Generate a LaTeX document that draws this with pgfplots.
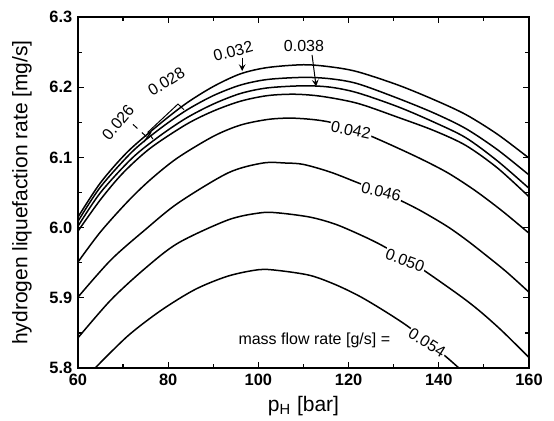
\documentclass[border=0pt]{standalone}
\usepackage{fontspec}
\setmainfont{Liberation Sans}
\usepackage{pgfplots}
\pgfplotsset{compat=1.18}
\begin{document}
\fontsize{8}{9.6}\selectfont
\begin{tikzpicture}
\begin{axis}[
  width=225.5pt, height=175.5pt, scale only axis,
  xmin=60, xmax=160, ymin=5.8, ymax=6.3,
  xtick={60,80,100,120,140,160},
  ytick={5.8,5.9,6.0,6.1,6.2,6.3},
  minor x tick num=1, minor y tick num=1,
  yticklabel style={/pgf/number format/fixed,
    /pgf/number format/precision=1, /pgf/number format/fixed zerofill},
  /pgf/number format/assume math mode=true,
  tick align=inside,
  major tick length=3pt, minor tick length=1.8pt,
  axis line style={line width=0.8pt},
  tick style={line width=0.6pt, black},
  ticklabel style={font=\fontsize{8.2}{9.6}\selectfont\bfseries},
  xlabel style={font=\fontsize{10.5}{12}\selectfont,
    at={(rel axis cs:0.5,0)}, anchor=center, yshift=-19pt},
  ylabel style={font=\fontsize{10.5}{12}\selectfont,
    at={(rel axis cs:0,0.5)}, anchor=center, yshift=28pt},
  xlabel={p\textsubscript{H} [bar]},
  ylabel={hydrogen liquefaction rate [mg/s]},
  cycle list={{black, solid}},
  every axis plot/.append style={line width=0.75pt, smooth, no markers},
]
% top cluster
\addplot coordinates {(60,6.015) (65,6.064) (71,6.108) (78,6.147) (84,6.177) (90,6.201) (96,6.219) (102,6.228) (110,6.232) (116,6.229) (122,6.222) (131,6.203) (139,6.182) (146,6.161) (153,6.133) (160,6.099)};
\addplot coordinates {(60,6.009) (65,6.058) (72,6.108) (78,6.140) (84,6.167) (90,6.188) (96,6.203) (102,6.211) (110,6.214) (116,6.212) (122,6.205) (131,6.184) (139,6.163) (146,6.141) (153,6.111) (160,6.075)};
\addplot coordinates {(60,6.002) (65,6.050) (72,6.099) (78,6.130) (84,6.156) (90,6.176) (96,6.191) (102,6.199) (110,6.202) (116,6.200) (122,6.192) (131,6.172) (139,6.150) (146,6.128) (153,6.095) (160,6.056)};
\addplot coordinates {(60,5.995) (65,6.040) (70,6.078) (76,6.113) (84,6.147) (90,6.166) (96,6.180) (102,6.188) (108,6.190) (114,6.187) (122,6.177) (131,6.157) (139,6.138) (146,6.117) (153,6.085) (160,6.044)};
% 0.042
\addplot coordinates {(60,5.951) (65,5.994) (71,6.037) (76,6.068) (82,6.099) (90,6.130) (96,6.146) (102,6.154) (107,6.156) (112,6.154) (116,6.150) (120.5,6.141) (124.7,6.131) (130,6.116) (136,6.098) (142,6.078) (148,6.053) (154,6.024) (160,5.992)};
% 0.046
\addplot coordinates {(60,5.901) (67.3,5.954) (74.9,5.997) (82.2,6.035) (93.3,6.078) (101,6.092) (106,6.092) (110,6.090) (116,6.079) (122,6.064) (127.2,6.051) (131.4,6.039) (136,6.024) (141.8,6.002) (146,5.983) (150,5.963) (155,5.937) (160,5.908)};
% 0.050
\addplot coordinates {(60,5.843) (67.3,5.897) (74.9,5.942) (82.2,5.978) (93.3,6.011) (100.4,6.021) (104.3,6.021) (111.4,6.015) (117,6.005) (122.5,5.990) (127,5.976) (132.5,5.956) (136.5,5.940) (144.7,5.903) (149.1,5.881) (154,5.853) (160,5.815)};
% 0.054
\addplot coordinates {(63.8,5.800) (71.1,5.846) (78.4,5.882) (86,5.912) (93.3,5.931) (100,5.940) (104.3,5.939) (111.4,5.932) (117,5.919) (122.5,5.902) (128,5.881) (133,5.860) (137.4,5.838) (141.8,5.815) (145.5,5.794)};

% labels
\node[fill=white, inner sep=0.6pt, rotate=-12] at (axis cs:120.5,6.139) {0.042};
\node[fill=white, inner sep=0.6pt, rotate=-14] at (axis cs:127.2,6.051) {0.046};
\node[fill=white, inner sep=0.6pt, rotate=-20] at (axis cs:132.5,5.953) {0.050};
\node[fill=white, inner sep=0.6pt, rotate=-32] at (axis cs:137.4,5.836) {0.054};
\node at (axis cs:112.4,5.840) {mass flow rate [g/s] =};
\node[rotate=15] at (axis cs:94.4,6.251) {0.032};
\node at (axis cs:110.1,6.258) {0.038};
\node[rotate=32] at (axis cs:79.6,6.208) {0.028};
\node[rotate=50] at (axis cs:68.9,6.150) {0.026};
\draw[-stealth, line width=0.5pt] (axis cs:96.4,6.242) -- (axis cs:96.4,6.223);
\draw[-stealth, line width=0.5pt] (axis cs:111.9,6.246) -- (axis cs:112.8,6.201);
\draw[line width=0.5pt] (axis cs:76.63,6.126) -- (axis cs:75.52,6.136) -- (axis cs:82.17,6.176) -- (axis cs:83.50,6.168);
\draw[dashed, line width=0.5pt] (axis cs:72.2,6.147) -- (axis cs:75.6,6.127);
\draw[line width=0.6pt] (axis cs:74.6,6.122) -- (axis cs:76.2,6.136);
\end{axis}
\pgfresetboundingbox
\path[use as bounding box] (-39pt,-26pt) rectangle (238pt,184pt);
\end{tikzpicture}
\end{document}
